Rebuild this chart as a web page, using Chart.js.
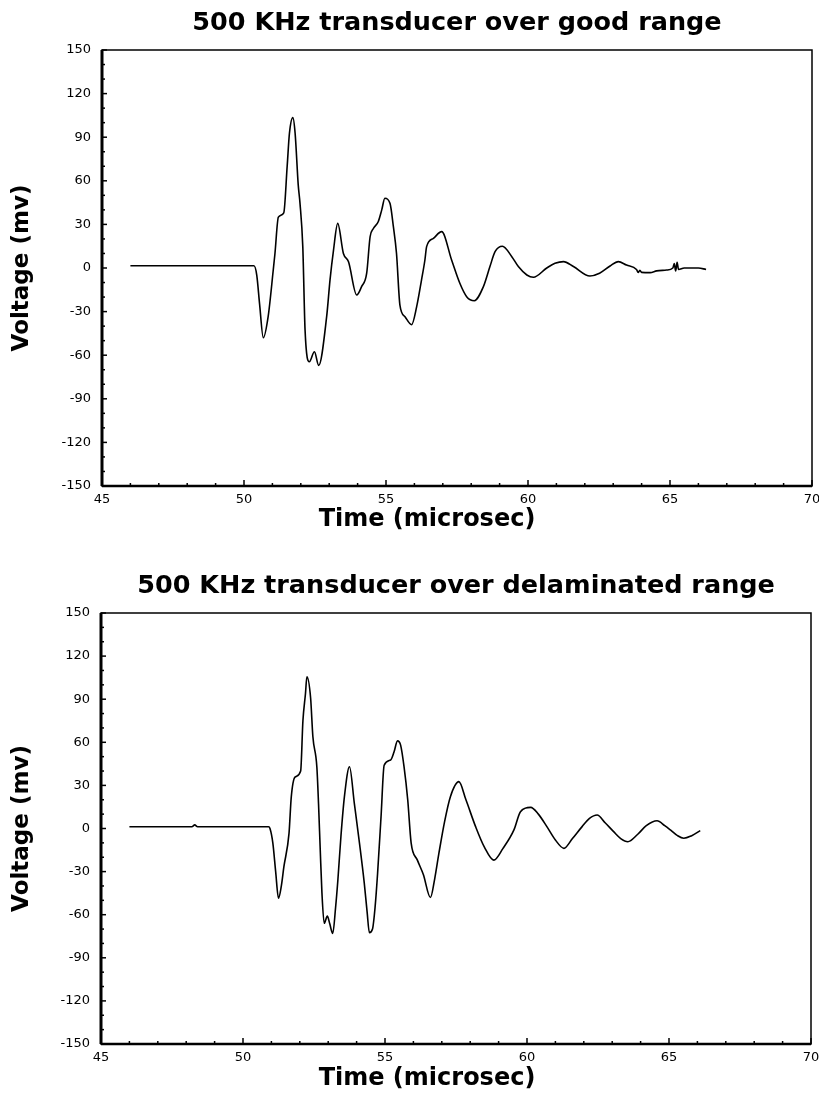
<!DOCTYPE html>
<html>
<head>
<meta charset="utf-8">
<script src="https://cdn.jsdelivr.net/npm/chart.js@4/dist/chart.umd.min.js"></script>
<style>
    body { margin: 0; background: #fff; }
    .panel { position: absolute; left: 0; }
</style>
</head>
<body>
<div class="panel" style="top: 0px;"><canvas id="good-chart" width="819" height="556"></canvas></div>
<div class="panel" style="top: 556px;"><canvas id="delam-chart" width="819" height="543"></canvas></div>
<script>
// Waveform over the good range (time in microsec, voltage in mv)
const goodTime = [
    46.0, 47.0, 48.0, 49.0, 50.0, 50.35, 50.45, 50.55, 50.68, 50.85, 51.03, 51.09, 51.21, 51.4,
    51.52, 51.6, 51.72, 51.8, 51.91, 51.97, 52.07, 52.15, 52.3, 52.48, 52.63, 52.91, 53.03, 53.15,
    53.3, 53.5, 53.68, 53.97, 54.14, 54.32, 54.44, 54.55, 54.73, 54.85, 54.96, 55.14, 55.26, 55.37,
    55.49, 55.67, 55.9, 56.08, 56.25, 56.37, 56.43, 56.67, 56.96, 57.31, 57.6, 57.84, 58.11, 58.43,
    58.66, 58.84, 59.1, 59.43, 59.66, 59.96, 60.19, 60.66, 60.95, 61.25, 61.6, 62.18, 62.52, 62.89,
    63.18, 63.47, 63.82, 63.88, 63.94, 64.0, 64.3, 64.53, 64.88, 65.1, 65.15, 65.2, 65.25, 65.3,
    65.5, 66.0, 66.27
];
const goodVolt = [
    1.5, 1.5, 1.5, 1.5, 1.5, 1.5, -5, -25, -48, -33.5, -1.4, 10, 35, 38,
    70, 92.7, 103.5, 92.7, 57, 45, 14.7, -42.7, -64.5, -57.6, -67, -33.5, -8, 12,
    30.7, 10, 4.3, -18.6, -12.8, -3.6, 21.5, 27, 32, 40, 48, 44.5, 28.4, 10,
    -25.5, -33.5, -39, -26.6, -8.3, 5.5, 14.7, 20.4, 25, 5.5, -10.5, -19.7, -22.5, -12.8,
    1, 11.2, 15, 7.8, 1, -4.8, -6.4, 0, 3.2, 4.4, 1, -5.5, -3.6, 1.4,
    4.4, 2, -1, -3, -1.5, -3, -3.2, -2, -1.4, 0, 3, -2, 4, -1,
    0, 0, -1
];

// Waveform over the delaminated range
const delamTime = [
    46.0, 47.0, 48.2, 48.3, 48.4, 49.5, 50.9, 50.95, 51.05, 51.15, 51.25, 51.35, 51.44, 51.62,
    51.7, 51.83, 52.03, 52.11, 52.2, 52.25, 52.38, 52.46, 52.6, 52.66, 52.72, 52.78, 52.86, 52.97,
    53.05, 53.16, 53.26, 53.34, 53.45, 53.57, 53.75, 53.92, 54.1, 54.27, 54.37, 54.45, 54.56, 54.65,
    54.74, 54.86, 54.97, 55.2, 55.32, 55.44, 55.55, 55.67, 55.8, 55.92, 56.14, 56.35, 56.6, 56.75,
    56.9, 57.1, 57.3, 57.6, 57.85, 58.19, 58.5, 58.83, 59.15, 59.54, 59.77, 60.13, 60.4, 60.7,
    61.0, 61.3, 61.6, 61.94, 62.2, 62.47, 62.75, 63.05, 63.3, 63.55, 63.9, 64.2, 64.58, 64.85,
    65.05, 65.3, 65.52, 65.8, 66.1
];
const delamVolt = [
    1.2, 1.2, 1.2, 2.5, 1.2, 1.2, 1.2, 0, -10, -30, -48.6, -40, -26.6, -3.4,
    22, 35.7, 40, 75, 94, 105.6, 91, 64, 43, 17, -15, -45, -66, -61,
    -66, -73, -55, -36, -5, 22, 43, 17.5, -10, -38, -58, -72.5, -70, -55,
    -31, 8, 44, 47.7, 53.4, 61, 58, 43, 20, -10, -22, -32, -48, -35,
    -17, 5, 22, 32.6, 20, 1.3, -13, -22, -14, -1, 11.7, 14.7, 10, 1.3,
    -8, -13.8, -7, 1.3, 7, 9.4, 4, -2.2, -7, -9.2, -4, 2, 5.4, 2,
    -1, -5, -6.8, -5, -1.5
];

// Axis ranges and tick steps
const timeRange = [45, 70];
const timeStep = 5;
const voltRange = [-150, 150];
const voltStep = 30;

const TITLE_FONT = { family: 'DejaVu Sans', size: 25.5, weight: 'bold' };
const TICK_FONT = { family: 'DejaVu Sans', size: 13 };

// Inward tick marks and the frame round the plot
const frameTicks = {
    id: 'frameTicks',
    afterDatasetsDraw(chart) {
        const { ctx, chartArea: a, scales: { x, y } } = chart;
        ctx.save();
        ctx.strokeStyle = '#000';
        ctx.lineWidth = 1.5;
        for (let t = x.min; t <= x.max; t += 1) {
            const px = x.getPixelForValue(t);
            const len = t % timeStep === 0 ? 6 : 3;
            ctx.beginPath();
            ctx.moveTo(px, a.bottom);
            ctx.lineTo(px, a.bottom - len);
            ctx.stroke();
        }
        for (let v = y.min; v <= y.max; v += 10) {
            const py = y.getPixelForValue(v);
            const len = v % voltStep === 0 ? 5 : 3;
            ctx.beginPath();
            ctx.moveTo(a.left, py);
            ctx.lineTo(a.left + len, py);
            ctx.stroke();
        }
        ctx.lineWidth = 1.5;
        ctx.strokeRect(a.left, a.top, a.width, a.height);
        ctx.lineWidth = 3;
        ctx.beginPath();
        ctx.moveTo(a.left, a.top);
        ctx.lineTo(a.left, a.bottom);
        ctx.stroke();
        ctx.lineWidth = 2.5;
        ctx.beginPath();
        ctx.moveTo(a.left, a.bottom);
        ctx.lineTo(a.right, a.bottom);
        ctx.stroke();
        ctx.restore();
    }
};

// x axis title sits a bit left of the plot centre in the original
const timeTitle = {
    id: 'timeTitle',
    afterDraw(chart, args, opts) {
        const { ctx, chartArea } = chart;
        ctx.save();
        ctx.font = 'bold 24px "DejaVu Sans"';
        ctx.fillStyle = '#000';
        ctx.textAlign = 'center';
        ctx.textBaseline = 'alphabetic';
        ctx.fillText(opts.text, opts.x, chartArea.bottom + opts.dy);
        ctx.restore();
    }
};

function buildChart(canvasId, times, volts, titleText, geo) {
    const points = times.map((t, i) => ({ x: t, y: volts[i] }));
    return new Chart(document.getElementById(canvasId), {
        type: 'line',
        data: {
            datasets: [{
                data: points,
                borderColor: '#000',
                borderWidth: 1.6,
                pointRadius: 0,
                cubicInterpolationMode: 'monotone',
                fill: false
            }]
        },
        plugins: [frameTicks, timeTitle],
        options: {
            responsive: false,
            animation: false,
            layout: { padding: { left: 0, right: geo.right, top: 0, bottom: 0 } },
            plugins: {
                legend: { display: false },
                tooltip: { enabled: false },
                title: {
                    display: true,
                    text: titleText,
                    fullSize: false,
                    color: '#000',
                    font: TITLE_FONT,
                    padding: { top: geo.titleTop, bottom: geo.titleBottom }
                },
                timeTitle: { text: 'Time (microsec)', x: 427, dy: geo.xTitleDy }
            },
            scales: {
                x: {
                    type: 'linear',
                    min: timeRange[0],
                    max: timeRange[1],
                    grid: { display: false, drawTicks: false },
                    border: { display: false },
                    ticks: {
                        stepSize: timeStep,
                        color: '#000',
                        font: TICK_FONT,
                        padding: 6,
                        maxRotation: 0
                    },
                    afterFit: (scale) => {
                        scale.height = geo.xHeight;
                        scale.paddingLeft = 0;
                        scale.paddingRight = 0;
                    }
                },
                y: {
                    type: 'linear',
                    min: voltRange[0],
                    max: voltRange[1],
                    grid: { display: false, drawTicks: false },
                    border: { display: false },
                    ticks: {
                        stepSize: voltStep,
                        color: '#000',
                        font: TICK_FONT,
                        padding: 11
                    },
                    title: {
                        display: true,
                        text: 'Voltage (mv)',
                        color: '#000',
                        font: { family: 'DejaVu Sans', size: 23, weight: 'bold' },
                        padding: { top: 8, bottom: 0 }
                    },
                    afterFit: (scale) => {
                        scale.width = geo.left;
                        scale.paddingTop = 0;
                        scale.paddingBottom = 0;
                    }
                }
            }
        }
    });
}

buildChart('good-chart', goodTime, goodVolt, '500 KHz transducer over good range', {
    left: 102, right: 7, titleTop: 8, titleBottom: 11.4, xHeight: 70, xTitleDy: 40
});
buildChart('delam-chart', delamTime, delamVolt, '500 KHz transducer over delaminated range', {
    left: 101, right: 8, titleTop: 14.7, titleBottom: 11.7, xHeight: 55, xTitleDy: 41
});
</script>
</body>
</html>
